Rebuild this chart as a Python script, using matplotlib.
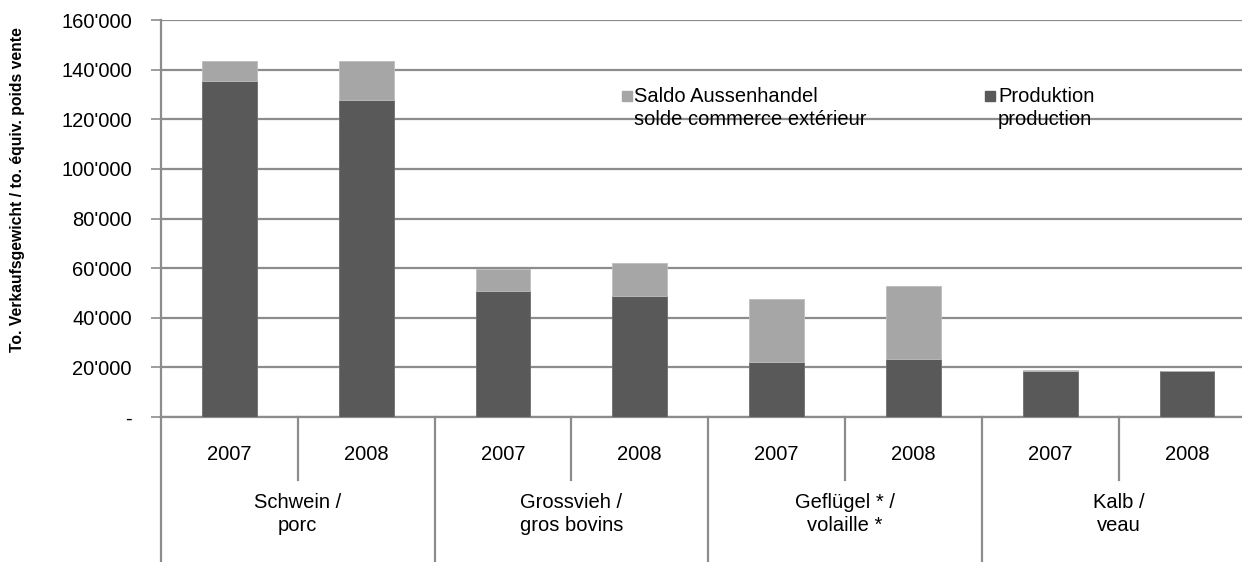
import matplotlib

matplotlib.use("Agg")
import matplotlib.pyplot as plt
from matplotlib.patches import Rectangle
from matplotlib.ticker import FuncFormatter

plt.rcParams["font.family"] = ["Liberation Sans", "DejaVu Sans"]

groups = ["Schwein /\nporc", "Grossvieh /\ngros bovins", "Geflügel * /\nvolaille *", "Kalb /\nveau"]
years = ["2007", "2008"]
produktion = [135600, 127800, 50800, 48800, 22300, 23500, 18500, 18400]
saldo = [7900, 15500, 8800, 13200, 25300, 29200, 400, 0]
series_labels = ["Saldo Aussenhandel\nsolde commerce extérieur", "Produktion\nproduction"]
y_label = "To. Verkaufsgewicht / to. équiv. poids vente"

dark = "#595959"
light = "#a6a6a6"
grid = "#8c8c8c"

W, H = 1242, 562
fig = plt.figure(figsize=(W / 100, H / 100), dpi=100)
x0, x1, y_top, y_zero = 161, 1242, 20, 417
ax = fig.add_axes([x0 / W, (H - y_zero) / H, (x1 - x0) / W, (y_zero - y_top) / H])

slot = 136.8
n = len(produktion)
x = list(range(n))
ax.bar(x, produktion, width=0.4, color=dark, edgecolor="#6e6e6e", linewidth=0.6, zorder=3)
ax.bar(x, saldo, bottom=produktion, width=0.4, color=light, edgecolor="#bdbdbd", linewidth=0.6, zorder=3)

ax.set_xlim(-0.5, -0.5 + (x1 - x0) / slot)
ax.set_ylim(0, 160000)
ax.set_yticks(range(0, 160001, 20000))
ax.yaxis.set_major_formatter(FuncFormatter(lambda v, _: "-" if v == 0 else f"{int(v):,}".replace(",", "'")))
ax.yaxis.grid(True, color=grid, linewidth=1.6, zorder=0)
ax.set_xticks([])
ax.tick_params(axis="y", length=7, width=1.2, color=grid, labelsize=14.5, pad=14)
for s in ["top", "right"]:
    ax.spines[s].set_visible(False)
for s in ["left", "bottom"]:
    ax.spines[s].set_color(grid)
    ax.spines[s].set_linewidth(1.6)

ax.set_ylabel(y_label, fontsize=11.3, fontweight="bold")
ax.yaxis.set_label_coords(-(x0 - 25) / (x1 - x0), (y_zero - 190) / (y_zero - y_top))

# two-level category axis
h = y_zero - y_top
tr = ax.get_xaxis_transform()
y_year_sep = -(480 - y_zero) / h
y_bottom = -(H - y_zero) / h
for i in range(len(groups) + 1):
    ax.plot([2 * i - 0.5] * 2, [0, y_bottom], color=grid, linewidth=1.6, transform=tr, clip_on=False)
for i in range(len(groups)):
    ax.plot([2 * i + 0.5] * 2, [0, y_year_sep], color=grid, linewidth=1.6, transform=tr, clip_on=False)
    ax.text(2 * i + 0.5, -(514 - y_zero) / h, groups[i], transform=tr, ha="center", va="center",
            fontsize=14.5, linespacing=1.3)
for i in x:
    ax.text(i, -(454 - y_zero) / h, years[i % 2], transform=tr, ha="center", va="center", fontsize=14.5)

# legend
for (sx, tx), lab, col in zip([(622, 634), (985, 998)], series_labels, [light, dark]):
    fig.patches.append(Rectangle((sx / W, (H - 101) / H), 10 / W, 10 / H, color=col, transform=fig.transFigure))
    fig.text(tx / W, (H - 108) / H, lab, fontsize=14.5, ha="left", va="center", linespacing=1.3)

fig.savefig("out.png", dpi=100)
